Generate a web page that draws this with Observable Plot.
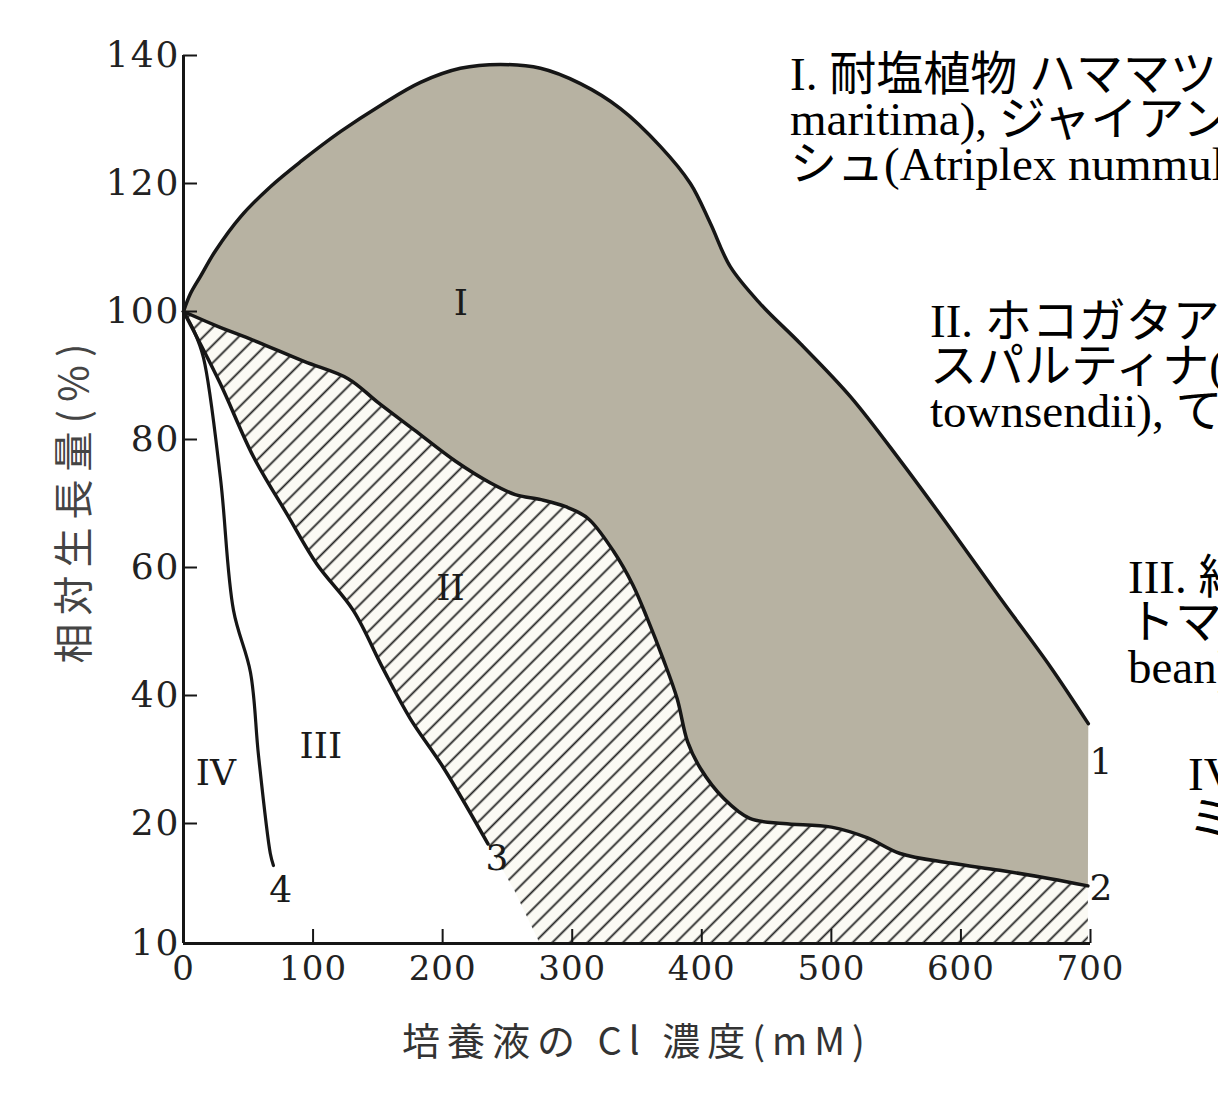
<!DOCTYPE html>
<html><head><meta charset="utf-8">
<script src="https://cdn.jsdelivr.net/npm/d3@7"></script>
<script src="https://cdn.jsdelivr.net/npm/@observablehq/plot@0.6"></script>
<style>
html,body{margin:0;padding:0;background:#fff;overflow:hidden;width:1218px;height:1108px}
#wrap{position:relative;width:1218px;height:1108px;overflow:hidden}
.note{position:absolute;white-space:nowrap;font-family:"Liberation Serif","Noto Sans CJK JP",serif;font-size:47px;line-height:45px;color:#000}
g[aria-label="y-axis tick label"]{letter-spacing:2px}
g[aria-label="x-axis tick label"]{letter-spacing:1px}
</style></head>
<body><div id="wrap"></div>
<script>
// Relative growth (%) vs. Cl concentration of the culture solution (mM)
const curve1 = [[0,100],[5.4,102.8],[13.1,105.5],[24.7,109.5],[44,114.8],[67.1,119.5],[90.3,123.4],[121.1,128.1],[152,132.2],[182.9,135.8],[213.7,138],[244.6,138.6],[275.5,138],[306.3,135.6],[337.2,131.7],[368,125.8],[391.2,120],[406.6,113.8],[422,107],[445.2,101.2],[476,95],[514.7,86.7],[553.2,76.7],[591.8,66.1],[630.4,55.2],[669,44.5],[698.3,35.6]];
const curve2 = [[0,100],[25,97.8],[54,95.5],[93,92.2],[127,89.5],[150,85.8],[178,81.5],[210,76.6],[237,73.2],[256,71.4],[276,70.6],[295,69.5],[312,67.7],[332,62.5],[347,57.2],[358,52],[370,45.8],[381,39.5],[389,32.8],[399,28.6],[417,23.9],[437,20.8],[463,20],[500,19.7],[528,18.8],[553,17.5],[592,16.7],[630,16.1],[669,15.4],[698,14.8]];
const curve3 = [[0,100],[28,88.9],[54,77.3],[80,68.3],[103,60.5],[131,53.3],[154,44.2],[175,36.4],[201,28.6],[235,18.3]];
const curve4 = [[0,100],[8,97],[15.4,92.8],[28.5,74],[38.6,53.3],[51.7,43.6],[57.9,30.6],[67,17.5],[69.4,16.5]];
// lower edge of the hatched zone below the end of curve 3, down to the axis
const hatchEdge = [[235,18.3],[255,14.5],[275,10]];
const axisBottom = 10;
const xMax = 700;

const xTicks = [0,100,200,300,400,500,600,700];
const yTicks = [10,20,40,60,80,100,120,140];

const zoneLabels = [
  {x:214, y:101.2, t:"I"},
  {x:206, y:56.7, t:"II"},
  {x:106, y:32.0, t:"III"},
  {x:25, y:27.8, t:"IV"}
];
const curveLabels = [
  {x:708, y:29.5, t:"1"},
  {x:708, y:14.6, t:"2"},
  {x:242, y:17.1, t:"3"},
  {x:75, y:14.4, t:"4"}
];
const xTitle = "培養液の Cl 濃度(mM)";
const yTitle = "相対生長量(%)";

const notes = [
  {left:790, top:52, lines:["I. 耐塩植物 ハママツナ(Suaeda","maritima), ジャイアントソルトブッ","シュ(Atriplex nummularia)"]},
  {left:930, top:299, lines:["II. ホコガタアカザ(Atriplex","スパルティナ(Spartina","townsendii), てんさい(sugar beet)"]},
  {left:1128, top:555, lines:["III. 綿(cotton), 大麦(barley)","トマト(tomato), ダイズ(soy","bean)"]},
  {left:1188, top:752, lines:["IV. 非耐塩植物","ミカン(citrus)"]}
];

// the value axis is broken below 20: the 10–20 span is drawn 1.875× taller
const BREAK = 20, STRETCH = 1.875;
const ty = v => v >= BREAK ? v : BREAK - (BREAK - v) * STRETCH;
const iy = t => t >= BREAK ? t : BREAK - (BREAK - t) / STRETCH;

const regionI = curve1.concat(curve2.slice().reverse());
const regionII = curve2
  .concat([[curve2[curve2.length-1][0], axisBottom]])
  .concat(hatchEdge.slice().reverse())
  .concat(curve3.slice(0, -1).reverse());

const ink = "#161616";
const X = d => d[0], Y = d => ty(d[1]);
const svg = Plot.plot({
  width: 1218, height: 1108,
  marginLeft: 183, marginRight: 128, marginTop: 55, marginBottom: 165,
  x: {domain: [0, xMax]},
  y: {domain: [ty(axisBottom), 140]},
  style: {background: "#fff", fontFamily: "DejaVu Serif, serif", color: ink},
  marks: [
    Plot.line(regionI, {x: X, y: Y, fill: "#b7b2a2", stroke: "none"}),
    Plot.line(regionII, {x: X, y: Y, fill: "url(#hatch)", stroke: "none"}),
    Plot.line(curve1, {x: X, y: Y, stroke: ink, strokeWidth: 3.5, curve: "catmull-rom"}),
    Plot.line(curve2, {x: X, y: Y, stroke: ink, strokeWidth: 3.5, curve: "catmull-rom"}),
    Plot.line(curve3, {x: X, y: Y, stroke: ink, strokeWidth: 3.5, curve: "catmull-rom"}),
    Plot.line(curve4, {x: X, y: Y, stroke: ink, strokeWidth: 3.2, curve: "catmull-rom"}),
    Plot.ruleX([0], {stroke: ink, strokeWidth: 3}),
    Plot.ruleY([ty(axisBottom)], {stroke: ink, strokeWidth: 3}),
    Plot.axisY(yTicks.map(ty), {tickSize: 0, tickPadding: 3, fontSize: 36, fill: "#222", label: null,
      tickFormat: t => String(Math.round(iy(t)))}),
    Plot.axisY(yTicks.slice(1).map(ty), {tickSize: -14, tickFormat: () => "", label: null, strokeWidth: 2}),
    Plot.axisX(xTicks, {tickSize: 0, tickPadding: 12, fontSize: 34, fill: "#222", label: null}),
    Plot.axisX(xTicks.slice(1), {tickSize: -14, tickFormat: () => "", label: null, strokeWidth: 2}),
    Plot.text(zoneLabels, {x: "x", y: d => ty(d.y), text: "t", fontSize: 36, fill: "#1a1a1a"}),
    Plot.text(curveLabels, {x: "x", y: d => ty(d.y), text: "t", fontSize: 36, fill: "#1a1a1a"}),
    Plot.text([yTitle], {frameAnchor: "left", dx: -108, rotate: -90, textAnchor: "middle", lineAnchor: "middle",
      fontSize: 40, fill: "#444", fontFamily: "Noto Sans CJK JP"}),
    Plot.text([xTitle], {frameAnchor: "bottom", dy: 99, textAnchor: "middle", lineAnchor: "middle",
      fontSize: 38, fill: "#333", fontFamily: "Noto Sans CJK JP"})
  ]
});

// letter spacing for the two axis titles
for (const t of svg.querySelectorAll("text")) {
  if (t.textContent === yTitle) t.style.letterSpacing = "8px";
  if (t.textContent === xTitle) t.style.letterSpacing = "7px";
}

// hatch pattern for zone II
const NS = "http://www.w3.org/2000/svg";
const defs = document.createElementNS(NS, "defs");
const pat = document.createElementNS(NS, "pattern");
pat.setAttribute("id", "hatch");
pat.setAttribute("patternUnits", "userSpaceOnUse");
pat.setAttribute("width", "12.5");
pat.setAttribute("height", "12.5");
pat.setAttribute("patternTransform", "rotate(45)");
const bg = document.createElementNS(NS, "rect");
bg.setAttribute("width", "12.5"); bg.setAttribute("height", "12.5"); bg.setAttribute("fill", "#fbfaf4");
const ln = document.createElementNS(NS, "line");
ln.setAttribute("x1", "6.25"); ln.setAttribute("x2", "6.25"); ln.setAttribute("y1", "-1"); ln.setAttribute("y2", "14");
ln.setAttribute("stroke", "#222"); ln.setAttribute("stroke-width", "1.8");
pat.appendChild(bg); pat.appendChild(ln); defs.appendChild(pat);
svg.insertBefore(defs, svg.firstChild);

const wrap = document.getElementById("wrap");
wrap.appendChild(svg);
svg.style.position = "absolute"; svg.style.left = "0"; svg.style.top = "0";

for (const n of notes) {
  const d = document.createElement("div");
  d.className = "note";
  d.style.left = n.left + "px";
  d.style.top = n.top + "px";
  d.innerHTML = n.lines.map(s => `<div>${s}</div>`).join("");
  wrap.appendChild(d);
}
</script>
</body></html>
